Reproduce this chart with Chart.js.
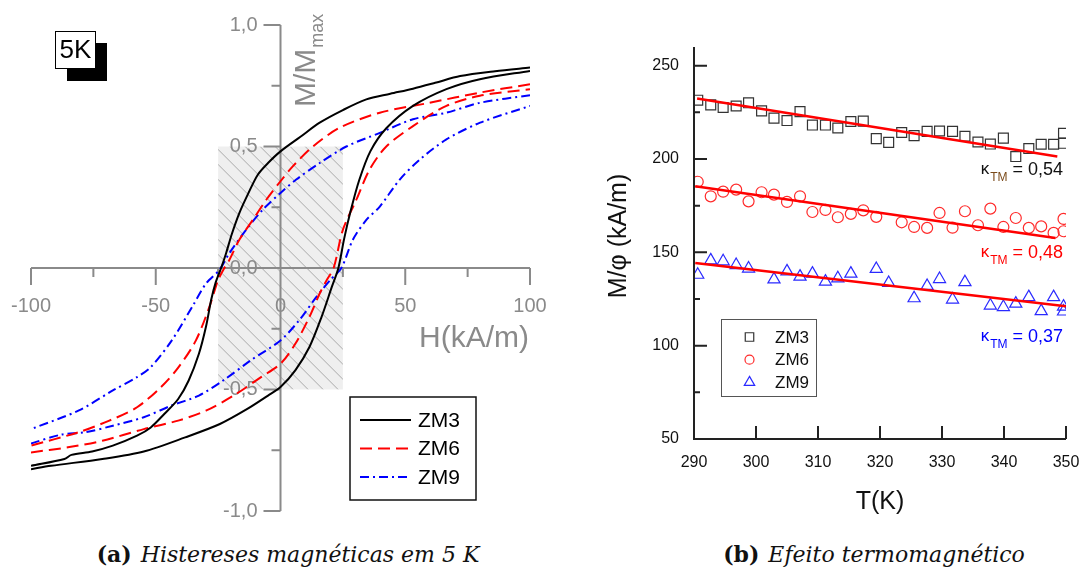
<!DOCTYPE html>
<html>
<head>
<meta charset="utf-8">
<script src="https://cdn.jsdelivr.net/npm/chart.js@4.4.1/dist/chart.umd.min.js"></script>
<style>
  html, body { margin: 0; padding: 0; background: #fff; }
  body { width: 1083px; height: 572px; position: relative; overflow: hidden; }
  #hystCanvas { position: absolute; left: 0; top: 0; }
  #tmCanvas { position: absolute; left: 560px; top: 0; }
  .cap { position: absolute; top: 542px; font-family: "DejaVu Serif", "Liberation Serif", serif; font-size: 22px; line-height: 24px; white-space: nowrap; transform: translateX(-50%); color: #111; }
  .cap b { font-weight: bold; font-style: normal; margin-right: 9px; }
  .cap i { font-style: italic; }
</style>
</head>
<body>
<canvas id="hystCanvas" width="560" height="530"></canvas>
<canvas id="tmCanvas" width="523" height="530"></canvas>
<div class="cap" style="left:288px"><b>(a)</b><i>Histereses magnéticas em 5 K</i></div>
<div class="cap" style="left:874px"><b>(b)</b><i>Efeito termomagnético</i></div>
<script>
// ---------- (a) hysteresis at 5 K : H (kA/m) -> M/Mmax ----------
const samples = ['ZM3', 'ZM6', 'ZM9'];

// descending branch (from +100 to -100)
const zm3UpH = [100, 86, 72, 62, 53.1, 44, 34.4, 25, 15.7, 8, 0, -5, -9.1, -13, -16.5, -19.5, -21.8, -23.8, -26, -27.8, -29.9, -32.7, -36.8, -41, -46.5, -52, -57.5, -67.2, -75.5, -83.8, -86.6, -100];
const zm3UpM = [0.825, 0.81, 0.79, 0.762, 0.738, 0.717, 0.694, 0.65, 0.598, 0.54, 0.48, 0.432, 0.384, 0.305, 0.226, 0.14, 0.061, 0, -0.06, -0.132, -0.243, -0.353, -0.463, -0.539, -0.6, -0.656, -0.69, -0.731, -0.755, -0.769, -0.786, -0.814];
// ascending branch (from -100 to +100)
const zm3LoH = [-100, -92, -71.4, -54.8, -38.2, -24.3, -13.3, -5, 0, 6, 11.6, 16.5, 20.5, 23.2, 25.5, 28, 31.5, 36, 42.4, 53.1, 66.5, 79.9, 100];
const zm3LoM = [-0.828, -0.814, -0.786, -0.755, -0.697, -0.642, -0.58, -0.525, -0.49, -0.42, -0.325, -0.2, -0.08, 0, 0.12, 0.23, 0.36, 0.48, 0.575, 0.667, 0.736, 0.777, 0.811];

const zm6UpH = [100, 80, 59.8, 39.8, 23.7, 13, 5, 0, -5.7, -11.1, -16.5, -20.5, -22.5, -25, -28.5, -34, -41, -47.9, -57.5, -68.6, -81, -100];
const zm6UpM = [0.756, 0.722, 0.68, 0.639, 0.577, 0.5, 0.419, 0.357, 0.281, 0.198, 0.116, 0.033, 0, -0.05, -0.16, -0.3, -0.41, -0.49, -0.573, -0.628, -0.676, -0.731];
const zm6LoH = [-100, -85.2, -71.4, -54.8, -41, -29.9, -18.8, -7.8, 0, 6, 11.6, 15.7, 18.5, 21.3, 25, 30.4, 35.7, 42.4, 53.1, 66.5, 79.9, 100];
const zm6LoM = [-0.759, -0.738, -0.711, -0.663, -0.628, -0.587, -0.525, -0.449, -0.394, -0.311, -0.201, -0.105, -0.05, 0, 0.157, 0.281, 0.405, 0.5, 0.584, 0.667, 0.709, 0.736];

const zm9UpH = [100, 80, 66.5, 53.1, 39.8, 26.4, 15.7, 6.3, 0, -7.1, -13.8, -20.5, -24.5, -29.8, -35.4, -43.7, -52, -57.5, -67.2, -81, -100];
const zm9UpM = [0.711, 0.68, 0.639, 0.612, 0.556, 0.5, 0.432, 0.364, 0.309, 0.24, 0.157, 0.061, -0.008, -0.063, -0.16, -0.3, -0.408, -0.449, -0.504, -0.587, -0.663];
const zm9LoH = [-100, -88, -78.3, -67.2, -54.8, -43.7, -32.7, -23, -11.9, 0, 7.5, 14.4, 19.9, 24.4, 29, 34.4, 39.8, 47.8, 55.8, 66.5, 80, 100];
const zm9LoM = [-0.722, -0.686, -0.676, -0.649, -0.614, -0.566, -0.525, -0.463, -0.38, -0.298, -0.215, -0.119, -0.05, 0, 0.116, 0.198, 0.253, 0.364, 0.446, 0.529, 0.598, 0.667];

const hTicks = [-100, -50, 0, 50, 100];
const hMinor = [-75, -25, 25, 75];
const mTicks = [-1, -0.5, 0, 0.5, 1];
const mMinor = [-0.75, -0.25, 0.25, 0.75];
const hatchH = [-25, 25];
const hatchM = [-0.5, 0.5];

// ---------- (b) thermomagnetic effect : T (K) -> M/phi (kA/m) ----------
const temps = [290.6, 292.7, 294.7, 296.8, 298.8, 300.9, 302.9, 305.0, 307.1, 309.1, 311.2, 313.2, 315.3, 317.3, 319.4, 321.4, 323.5, 325.5, 327.6, 329.6, 331.7, 333.7, 335.8, 337.8, 339.9, 341.9, 344.0, 346.0, 348.0, 349.6, 349.6];
const zm3Phi = [231.5, 229, 227.6, 228.4, 230.1, 225.8, 221.9, 220.6, 225.4, 218.2, 218.2, 216.6, 220.1, 220.3, 210.9, 208.9, 214.2, 212.5, 214.8, 215.0, 214.8, 212.2, 209.1, 208.0, 211.2, 201.3, 205.6, 207.9, 207.9, 213.8, 208.4];
const zm6Phi = [187.8, 180.0, 182.5, 183.6, 177.3, 182.2, 180.9, 177.0, 180.0, 171.6, 172.7, 168.8, 170.6, 172.5, 169.0, null, 166.1, 163.6, 163.1, 171.1, 163.2, 172.0, 164.5, 173.4, 163.6, 168.4, 163.1, 163.9, 160.4, 167.9, 161.3];
const zm9Phi = [138.0, 145.7, 145.2, 143.2, 141.3, null, 135.5, 139.8, 137.0, 138.6, 134.3, 136.1, 138.6, null, 141.1, 133.6, null, 125.4, 132.0, 135.7, 124.7, 134.0, null, 121.5, 120.7, 122.5, 126.0, 118.5, 126.0, 120.9, 118.3];

// linear fits (end points)
const fitT = [[290.5, 348.6], [290.2, 348.3], [290.2, 350]];
const fitPhi = [[232.4, 201.3], [185.4, 157.7], [144.3, 121.1]];
const kappa = ['0,54', '0,48', '0,37'];

const tTicks = [290, 300, 310, 320, 330, 340, 350];
const phiTicks = [50, 100, 150, 200, 250];
const phiMinor = [75, 125, 175, 225];

const FONT = '"Liberation Sans", Arial, sans-serif';
const GREY = '#8a8a8a';
const comma = v => v.toFixed(1).replace('.', ',');
const pairs = (xs, ys) => xs.map((x, i) => ({x: x, y: ys[i]})).filter(p => p.y !== null);

// ---------- chart (a) ----------
const loopStyle = [
  {color: '#000000', dash: []},
  {color: '#ff0000', dash: [12, 6]},
  {color: '#0000ff', dash: [9, 4, 2, 4]}
];
const branches = [
  [zm3UpH, zm3UpM, zm3LoH, zm3LoM],
  [zm6UpH, zm6UpM, zm6LoH, zm6LoM],
  [zm9UpH, zm9UpM, zm9LoH, zm9LoM]
];
const hystSets = [];
branches.forEach((b, i) => {
  [[b[0], b[1]], [b[2], b[3]]].forEach(br => {
    hystSets.push({
      label: samples[i],
      data: pairs(br[0], br[1]),
      showLine: true,
      borderColor: loopStyle[i].color,
      borderDash: loopStyle[i].dash,
      borderWidth: 2,
      pointRadius: 0,
      tension: 0.3,
      fill: false
    });
  });
});

const hystDecor = {
  id: 'hystDecor',
  beforeDatasetsDraw(chart) {
    const {ctx, scales: {x, y}} = chart;
    const x0 = x.getPixelForValue(0), y0 = y.getPixelForValue(0);
    // shaded low-field window
    const hl = x.getPixelForValue(hatchH[0]), hr = x.getPixelForValue(hatchH[1]);
    const ht = y.getPixelForValue(hatchM[1]), hb = y.getPixelForValue(hatchM[0]);
    ctx.save();
    ctx.fillStyle = '#efefef';
    ctx.fillRect(hl, ht, hr - hl, hb - ht);
    ctx.beginPath();
    ctx.rect(hl, ht, hr - hl, hb - ht);
    ctx.clip();
    ctx.beginPath();
    const hh = hb - ht;
    for (let d = -hh; d < hr - hl; d += 15) {
      ctx.moveTo(hl + d, ht);
      ctx.lineTo(hl + d + hh, hb);
    }
    ctx.strokeStyle = '#a9a9a9';
    ctx.lineWidth = 1;
    ctx.stroke();
    ctx.restore();

    // crossed axes
    ctx.save();
    ctx.strokeStyle = GREY;
    ctx.lineWidth = 2;
    ctx.beginPath();
    ctx.moveTo(x.getPixelForValue(x.min), y0);
    ctx.lineTo(x.getPixelForValue(x.max), y0);
    ctx.moveTo(x0, y.getPixelForValue(y.min));
    ctx.lineTo(x0, y.getPixelForValue(y.max));
    hTicks.forEach(v => { if (v !== 0) { const p = x.getPixelForValue(v); ctx.moveTo(p, y0); ctx.lineTo(p, y0 + 17); } });
    hMinor.forEach(v => { const p = x.getPixelForValue(v); ctx.moveTo(p, y0); ctx.lineTo(p, y0 + 9); });
    mTicks.forEach(v => { if (v !== 0) { const p = y.getPixelForValue(v); ctx.moveTo(x0, p); ctx.lineTo(x0 - 17, p); } });
    mMinor.forEach(v => { const p = y.getPixelForValue(v); ctx.moveTo(x0, p); ctx.lineTo(x0 - 9, p); });
    ctx.stroke();

    ctx.fillStyle = GREY;
    ctx.font = '20px ' + FONT;
    ctx.textAlign = 'center';
    ctx.textBaseline = 'middle';
    hTicks.forEach(v => ctx.fillText(String(v), x.getPixelForValue(v), y0 + 38));
    ctx.textAlign = 'right';
    mTicks.forEach(v => ctx.fillText(comma(v), x0 - 23, y.getPixelForValue(v)));

    // axis titles
    ctx.textAlign = 'left';
    ctx.textBaseline = 'alphabetic';
    ctx.font = '30px ' + FONT;
    ctx.fillText('H(kA/m)', 419, 347);
    ctx.save();
    ctx.translate(x0 + 34, 107);
    ctx.rotate(-Math.PI / 2);
    ctx.fillText('M/M', 0, 0);
    const w = ctx.measureText('M/M').width;
    ctx.font = '18px ' + FONT;
    ctx.fillText('max', w + 1, 8);
    ctx.restore();
    ctx.restore();
  },
  afterDraw(chart) {
    const {ctx} = chart;
    ctx.save();
    // temperature tag
    ctx.fillStyle = '#000';
    ctx.fillRect(67, 43, 40, 38);
    ctx.fillStyle = '#fff';
    ctx.fillRect(55, 31, 41, 38);
    ctx.strokeStyle = '#000';
    ctx.lineWidth = 1;
    ctx.strokeRect(55.5, 31.5, 40, 37);
    ctx.fillStyle = '#000';
    ctx.font = '26px ' + FONT;
    ctx.textAlign = 'center';
    ctx.textBaseline = 'middle';
    ctx.fillText('5K', 75.5, 51);

    // legend
    ctx.fillStyle = '#fff';
    ctx.fillRect(350, 397, 126, 103);
    ctx.strokeStyle = '#111';
    ctx.lineWidth = 1.5;
    ctx.strokeRect(350, 397, 126, 103);
    ctx.font = '21px ' + FONT;
    ctx.textAlign = 'left';
    samples.forEach((s, i) => {
      const yy = 420 + i * 28.5;
      ctx.strokeStyle = loopStyle[i].color;
      ctx.setLineDash(loopStyle[i].dash);
      ctx.lineWidth = 2;
      ctx.beginPath();
      ctx.moveTo(360, yy);
      ctx.lineTo(411, yy);
      ctx.stroke();
      ctx.setLineDash([]);
      ctx.fillStyle = '#000';
      ctx.fillText(s, 418, yy + 1);
    });
    ctx.restore();
  }
};

new Chart(document.getElementById('hystCanvas'), {
  type: 'scatter',
  data: {datasets: hystSets},
  options: {
    responsive: false,
    animation: false,
    devicePixelRatio: 1,
    layout: {padding: {left: 31, right: 30, top: 25, bottom: 19}},
    plugins: {legend: {display: false}, tooltip: {enabled: false}},
    scales: {
      x: {type: 'linear', min: -100, max: 100, display: false},
      y: {type: 'linear', min: -1, max: 1, display: false}
    }
  },
  plugins: [hystDecor]
});

// ---------- chart (b) ----------
const markStyle = [
  {shape: 'rect', color: '#333333', r: 7},
  {shape: 'circle', color: '#ff2a2a', r: 5.5},
  {shape: 'triangle', color: '#2a2aff', r: 7}
];
const noteColor = ['#111111', '#ff0000', '#0000ff'];
const noteSub = ['#7a4a1a', '#ff0000', '#0000ff'];
const phiSeries = [zm3Phi, zm6Phi, zm9Phi];

const tmSets = [];
fitT.forEach((ft, i) => {
  tmSets.push({
    label: 'fit ' + samples[i],
    data: pairs(ft, fitPhi[i]),
    showLine: true,
    borderColor: '#ff0000',
    borderWidth: 2.5,
    pointRadius: 0
  });
});
phiSeries.forEach((vals, i) => {
  tmSets.push({
    label: samples[i],
    data: pairs(temps, vals),
    showLine: false,
    pointStyle: markStyle[i].shape,
    pointRadius: markStyle[i].r,
    pointBorderColor: markStyle[i].color,
    pointBackgroundColor: 'rgba(0,0,0,0)',
    pointBorderWidth: 1.2
  });
});

function drawMark(ctx, shape, x, y, r) {
  ctx.beginPath();
  if (shape === 'rect') {
    const s = r * Math.SQRT1_2;
    ctx.rect(x - s, y - s, 2 * s, 2 * s);
  } else if (shape === 'circle') {
    ctx.arc(x, y, r, 0, Math.PI * 2);
  } else {
    ctx.moveTo(x, y - r);
    ctx.lineTo(x + r * 0.866, y + r / 2);
    ctx.lineTo(x - r * 0.866, y + r / 2);
    ctx.closePath();
  }
  ctx.stroke();
}

const tmDecor = {
  id: 'tmDecor',
  afterDatasetsDraw(chart) {
    const {ctx, scales: {x, y}, chartArea: ca} = chart;
    ctx.save();
    ctx.strokeStyle = '#222';
    ctx.lineWidth = 2;
    ctx.beginPath();
    ctx.moveTo(ca.left, ca.top);
    ctx.lineTo(ca.left, ca.bottom);
    ctx.lineTo(ca.right, ca.bottom);
    tTicks.forEach(v => { const p = x.getPixelForValue(v); ctx.moveTo(p, ca.bottom); ctx.lineTo(p, ca.bottom - 13); });
    phiTicks.forEach(v => { const p = y.getPixelForValue(v); ctx.moveTo(ca.left, p); ctx.lineTo(ca.left + 13, p); });
    phiMinor.forEach(v => { const p = y.getPixelForValue(v); ctx.moveTo(ca.left, p); ctx.lineTo(ca.left + 6, p); });
    ctx.stroke();

    ctx.fillStyle = '#111';
    ctx.font = '16px ' + FONT;
    ctx.textAlign = 'center';
    ctx.textBaseline = 'middle';
    tTicks.forEach(v => ctx.fillText(String(v), x.getPixelForValue(v), ca.bottom + 24));
    ctx.textAlign = 'right';
    phiTicks.forEach(v => ctx.fillText(String(v), ca.left - 15, y.getPixelForValue(v)));

    // axis titles
    ctx.font = '25px ' + FONT;
    ctx.textAlign = 'center';
    ctx.textBaseline = 'alphabetic';
    ctx.fillText('T(K)', 320, 509);
    ctx.save();
    ctx.translate(66, 236);
    ctx.rotate(-Math.PI / 2);
    ctx.fillText('M/\u03c6 (kA/m)', 0, 0);
    ctx.restore();

    // kappa_TM notes
    const noteY = [175, 258, 342];
    kappa.forEach((k, i) => {
      const right = ca.right - 3;
      ctx.textAlign = 'right';
      ctx.font = '18px ' + FONT;
      ctx.fillStyle = noteColor[i];
      const main = '= ' + k;
      ctx.fillText(main, right, noteY[i]);
      let xx = right - ctx.measureText(main).width - 5;
      ctx.font = '12px ' + FONT;
      ctx.fillStyle = noteSub[i];
      ctx.fillText('TM', xx, noteY[i] + 6);
      xx -= ctx.measureText('TM').width + 1;
      ctx.font = '17px ' + FONT;
      ctx.fillStyle = noteColor[i];
      ctx.fillText('\u03ba', xx, noteY[i] - 1);
    });

    // legend
    ctx.strokeStyle = '#555';
    ctx.lineWidth = 1;
    ctx.strokeRect(161.5, 319.5, 95, 77);
    ctx.font = '17px ' + FONT;
    ctx.textAlign = 'left';
    ctx.textBaseline = 'middle';
    samples.forEach((s, i) => {
      const yy = 337 + i * 22.7;
      ctx.strokeStyle = markStyle[i].color;
      ctx.lineWidth = 1.2;
      drawMark(ctx, markStyle[i].shape, 189.5, yy, markStyle[i].shape === 'circle' ? 4.5 : 6);
      ctx.fillStyle = '#111';
      ctx.fillText(s, 215, yy + 1);
    });
    ctx.restore();
  }
};

new Chart(document.getElementById('tmCanvas'), {
  type: 'scatter',
  data: {datasets: tmSets},
  options: {
    responsive: false,
    animation: false,
    devicePixelRatio: 1,
    layout: {padding: {left: 134, right: 17, top: 47, bottom: 91}},
    plugins: {legend: {display: false}, tooltip: {enabled: false}},
    scales: {
      x: {type: 'linear', min: 290, max: 350, display: false},
      y: {type: 'linear', min: 50, max: 260, display: false}
    }
  },
  plugins: [tmDecor]
});
</script>
</body>
</html>
